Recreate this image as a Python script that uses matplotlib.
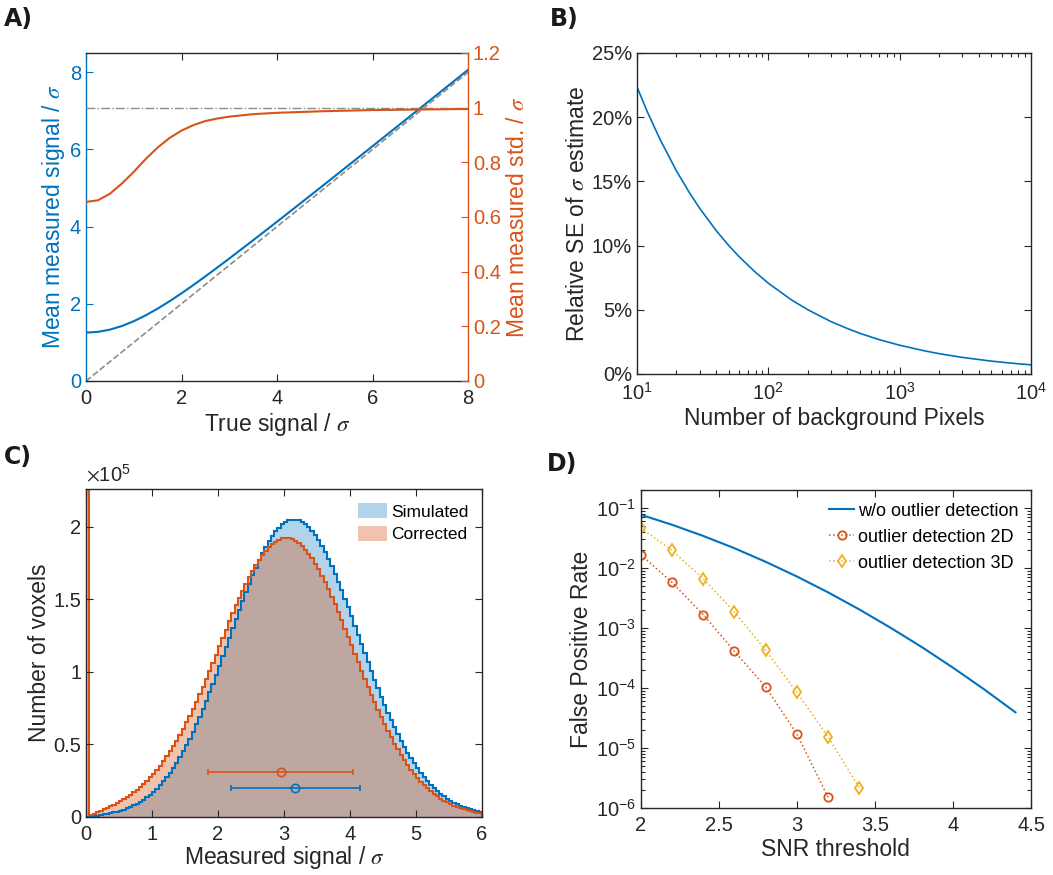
import numpy as np
import matplotlib.pyplot as plt
from matplotlib.patches import Patch
from matplotlib.ticker import FuncFormatter, LogLocator, NullFormatter

plt.rcParams['font.family'] = ['Liberation Sans', 'DejaVu Sans']
plt.rcParams['mathtext.fontset'] = 'stix'

blue = '#0072BD'
red = '#D95319'
yellow = '#EDB120'
dark = '#262626'

# --- A) mean / std of the measured signal vs true signal
true_signal = [0, 0.25, 0.5, 0.75, 1, 1.25, 1.5, 1.75, 2, 2.25, 2.5, 2.75,
               3, 3.5, 4, 4.5, 5, 5.5, 6, 6.5, 7, 7.5, 8]
mean_measured = [1.253, 1.273, 1.330, 1.424, 1.549, 1.701, 1.875, 2.067, 2.272,
                 2.488, 2.711, 2.940, 3.173, 3.647, 4.127, 4.613, 5.101, 5.592,
                 6.084, 6.577, 7.072, 7.567, 8.063]
std_measured = [0.655, 0.661, 0.685, 0.722, 0.765, 0.812, 0.854, 0.889, 0.916,
                0.936, 0.951, 0.960, 0.967, 0.976, 0.981, 0.984, 0.987, 0.989,
                0.991, 0.992, 0.993, 0.994, 0.995]
identity_line = [0, 8]

# --- B) relative SE of sigma estimate
n_pixels = [10, 12, 15, 20, 25, 30, 40, 50, 60, 80, 100, 150, 200, 300, 400,
            500, 700, 1000, 1500, 2000, 3000, 5000, 7000, 10000]
rel_se = [22.36, 20.41, 18.26, 15.81, 14.14, 12.91, 11.18, 10.00, 9.13, 7.91,
          7.07, 5.77, 5.00, 4.08, 3.54, 3.16, 2.67, 2.24, 1.83, 1.58, 1.29,
          1.00, 0.85, 0.71]

# --- C) histograms (counts in units of 1e5, bins of 0 .. 6)
simulated = [
    0.0014, 0.0042, 0.0071, 0.0102, 0.0136, 0.0173, 0.0214, 0.0261, 0.0313, 0.0371,
    0.0438, 0.0513, 0.0596, 0.0690, 0.0796, 0.0915, 0.1048, 0.1197, 0.1361, 0.1543,
    0.1743, 0.1962, 0.2202, 0.2463, 0.2746, 0.3052, 0.3382, 0.3735, 0.4113, 0.4516,
    0.4944, 0.5396, 0.5872, 0.6372, 0.6894, 0.7438, 0.8002, 0.8585, 0.9184, 0.9797,
    1.0422, 1.1057, 1.1697, 1.2342, 1.2986, 1.3626, 1.4259, 1.4880, 1.5488, 1.6077,
    1.6643, 1.7183, 1.7693, 1.8170, 1.8610, 1.9011, 1.9368, 1.9680, 1.9944, 2.0159,
    2.0322, 2.0433, 2.0490, 2.0495, 2.0446, 2.0342, 2.0188, 1.9982, 1.9727, 1.9425,
    1.9076, 1.8687, 1.8257, 1.7791, 1.7294, 1.6766, 1.6212, 1.5637, 1.5042, 1.4433,
    1.3813, 1.3187, 1.2555, 1.1924, 1.1295, 1.0672, 1.0057, 0.9454, 0.8865, 0.8290,
    0.7733, 0.7196, 0.6678, 0.6182, 0.5708, 0.5257, 0.4829, 0.4424, 0.4044, 0.3686,
    0.3351, 0.3040, 0.2750, 0.2482, 0.2233, 0.2005, 0.1795, 0.1604, 0.1429, 0.1270,
    0.1126, 0.0996, 0.0878, 0.0772, 0.0678, 0.0593, 0.0518, 0.0451, 0.0392, 0.0339]
corrected = [
    2.2600, 0.0137, 0.0229, 0.0324, 0.0422, 0.0522, 0.0624, 0.0733, 0.0849, 0.0973,
    0.1102, 0.1236, 0.1381, 0.1539, 0.1709, 0.1889, 0.2077, 0.2280, 0.2501, 0.2741,
    0.2995, 0.3257, 0.3540, 0.3846, 0.4176, 0.4521, 0.4875, 0.5254, 0.5657, 0.6086,
    0.6531, 0.6980, 0.7453, 0.7947, 0.8465, 0.8988, 0.9513, 1.0055, 1.0612, 1.1183,
    1.1759, 1.2325, 1.2896, 1.3469, 1.4043, 1.4585, 1.5092, 1.5584, 1.6060, 1.6516,
    1.6941, 1.7338, 1.7706, 1.8042, 1.8345, 1.8602, 1.8810, 1.8979, 1.9105, 1.9189,
    1.9219, 1.9194, 1.9124, 1.9011, 1.8854, 1.8654, 1.8414, 1.8131, 1.7813, 1.7456,
    1.7060, 1.6628, 1.6168, 1.5680, 1.5172, 1.4644, 1.4101, 1.3544, 1.2979, 1.2405,
    1.1822, 1.1241, 1.0663, 1.0090, 0.9524, 0.8967, 0.8422, 0.7891, 0.7375, 0.6876,
    0.6391, 0.5928, 0.5484, 0.5061, 0.4659, 0.4278, 0.3919, 0.3581, 0.3264, 0.2967,
    0.2691, 0.2434, 0.2197, 0.1978, 0.1775, 0.1591, 0.1421, 0.1267, 0.1126, 0.0999,
    0.0883, 0.0779, 0.0685, 0.0602, 0.0527, 0.0460, 0.0401, 0.0349, 0.0302, 0.0261]
hist_range = [0, 6]
err_mean = [3.17, 2.95]        # simulated, corrected
err_std = [0.975, 1.10]
err_height = [0.20, 0.31]

# --- D) false positive rate
snr_line = [2.0, 2.2, 2.4, 2.6, 2.8, 3.0, 3.2, 3.4, 3.6, 3.8, 4.0, 4.2, 4.4]
fpr_line = [0.0774, 0.0527, 0.0343, 0.0214, 0.0127, 0.00723, 0.00393, 0.00204,
            0.00101, 4.81e-4, 2.18e-4, 9.46e-5, 3.93e-5]
snr_2d = [2.0, 2.2, 2.4, 2.6, 2.8, 3.0, 3.2]
fpr_2d = [0.0167, 0.00577, 0.00167, 4.09e-4, 1.04e-4, 1.71e-5, 1.51e-6]
snr_3d = [2.0, 2.2, 2.4, 2.6, 2.8, 3.0, 3.2, 3.4]
fpr_3d = [0.0464, 0.0197, 0.00664, 0.00185, 4.25e-4, 8.48e-5, 1.53e-5, 2.16e-6]

fig = plt.figure(figsize=(10.53, 8.75), dpi=100)

tick_fs = 14.5
lab_fs = 16.5
tick_kw = dict(direction='in', labelsize=tick_fs, colors=dark, length=5, width=0.8)
gfmt = FuncFormatter(lambda v, p: '%g' % v)


def style(ax):
    for s in ax.spines.values():
        s.set_color(dark)
        s.set_linewidth(1.0)
    ax.tick_params(which='both', top=True, right=True, **tick_kw)
    ax.tick_params(which='minor', length=3)
    ax.tick_params(axis='x', which='major', pad=6)


# A
axA = fig.add_axes([0.0817, 0.5646, 0.3628, 0.3749])
axA2 = axA.twinx()
axA.plot(identity_line, identity_line, '--', color='#8c8c8c', lw=1.2)
axA.plot(true_signal, mean_measured, color=blue, lw=1.5)
axA2.axhline(1, color='#8c8c8c', ls='-.', lw=1.0)
axA2.plot(true_signal, std_measured, color=red, lw=1.5)
axA.set_xlim(0, 8)
axA.set_ylim(0, 8.5)
axA2.set_ylim(0, 1.2)
axA.set_xticks([0, 2, 4, 6, 8])
axA.set_yticks([0, 2, 4, 6, 8])
axA2.set_yticks(np.arange(0, 1.21, 0.2))
axA2.yaxis.set_major_formatter(gfmt)
for s in axA.spines.values():
    s.set_color(dark)
    s.set_linewidth(1.0)
axA.spines['left'].set_color(blue)
axA.spines['right'].set_visible(False)
axA2.spines['left'].set_visible(False)
axA2.spines['top'].set_visible(False)
axA2.spines['bottom'].set_visible(False)
axA2.spines['right'].set_color(red)
axA2.spines['right'].set_linewidth(1.0)
axA.tick_params(axis='x', top=True, pad=6, **tick_kw)
axA.tick_params(axis='y', right=False, direction='in', labelsize=tick_fs,
                colors=blue, length=5, width=0.8)
axA2.tick_params(axis='y', direction='in', labelsize=tick_fs, colors=red,
                 length=5, width=0.8)
axA.set_xlabel(r'True signal / $\sigma$', fontsize=lab_fs, color=dark, labelpad=2)
axA.set_ylabel(r'Mean measured signal / $\sigma$', fontsize=lab_fs, color=blue,
               labelpad=2)
axA2.set_ylabel(r'Mean measured std. / $\sigma$', fontsize=lab_fs, color=red,
                labelpad=4)

# B
axB = fig.add_axes([0.6049, 0.5726, 0.3742, 0.3669])
axB.plot(n_pixels, rel_se, color=blue, lw=1.2)
axB.set_xscale('log')
axB.set_xlim(10, 1e4)
axB.set_ylim(0, 25)
axB.set_yticks([0, 5, 10, 15, 20, 25])
axB.yaxis.set_major_formatter(FuncFormatter(lambda v, p: '%d%%' % v))
axB.xaxis.set_minor_locator(LogLocator(base=10, subs=np.arange(2, 10)))
axB.xaxis.set_minor_formatter(NullFormatter())
style(axB)
axB.set_xlabel('Number of background Pixels', fontsize=lab_fs, color=dark,
               labelpad=2)
axB.set_ylabel(r'Relative SE of $\sigma$ estimate', fontsize=lab_fs, color=dark,
               labelpad=2)

# C
axC = fig.add_axes([0.0817, 0.0663, 0.3761, 0.3749])
edges = np.linspace(hist_range[0], hist_range[1], len(simulated) + 1)
axC.stairs(simulated, edges, fill=True, color=blue, alpha=0.3, lw=0)
axC.stairs(corrected, edges, fill=True, color=red, alpha=0.35, lw=0)
axC.stairs(simulated, edges, color=blue, lw=1.5)
axC.stairs(corrected, edges, color=red, lw=1.5)
for m, s, h, c in zip(err_mean, err_std, err_height, [blue, red]):
    axC.errorbar(m, h, xerr=s, fmt='o', color=c, mfc='none', ms=6, lw=1.2,
                 capsize=2, capthick=1.0, mew=1.2)
axC.set_xlim(hist_range)
axC.set_ylim(0, max(corrected))
axC.set_yticks([0, 0.5, 1, 1.5, 2])
axC.yaxis.set_major_formatter(gfmt)
style(axC)
axC.text(0.0, 1.01, r'$\times\mathdefault{10^{5}}$', transform=axC.transAxes,
         fontsize=tick_fs, color=dark, va='bottom', ha='left')
axC.set_xlabel(r'Measured signal / $\sigma$', fontsize=lab_fs, color=dark,
               labelpad=0)
axC.set_ylabel('Number of voxels', fontsize=lab_fs, color=dark, labelpad=2)
axC.legend(handles=[Patch(facecolor=blue, alpha=0.3, label='Simulated'),
                    Patch(facecolor=red, alpha=0.35, label='Corrected')],
           loc='upper right', frameon=False, fontsize=12.5, handlelength=1.7,
           handleheight=1.0, handletextpad=0.2, borderaxespad=0.4,
           labelspacing=0.35)

# D
axD = fig.add_axes([0.6085, 0.0766, 0.3707, 0.3634])
axD.plot(snr_line, fpr_line, color=blue, lw=1.5,
         label='w/o outlier detection')
axD.plot(snr_2d, fpr_2d, ':', color=red, marker='o', mfc='none', ms=6,
         mew=1.3, lw=1.1, label='outlier detection 2D')
axD.plot(snr_3d, fpr_3d, ':', color=yellow, marker='d', mfc='none', ms=6,
         mew=1.3, lw=1.1, label='outlier detection 3D')
axD.set_yscale('log')
axD.set_xlim(2, 4.5)
axD.set_ylim(1e-6, 0.2)
axD.set_xticks([2, 2.5, 3, 3.5, 4, 4.5])
axD.xaxis.set_major_formatter(gfmt)
axD.yaxis.set_major_locator(LogLocator(base=10, numticks=10))
axD.yaxis.set_minor_locator(LogLocator(base=10, subs=np.arange(2, 10), numticks=20))
axD.yaxis.set_minor_formatter(NullFormatter())
style(axD)
axD.set_xlabel('SNR threshold', fontsize=lab_fs, color=dark, labelpad=2)
axD.set_ylabel('False Positive Rate', fontsize=lab_fs, color=dark, labelpad=2)
axD.legend(loc='upper right', frameon=False, fontsize=13, handlelength=1.4,
           handletextpad=0.2, borderaxespad=0.3, labelspacing=0.5)

# panel letters
for x, y, t in [(0.004, 0.992, 'A)'), (0.522, 0.992, 'B)'),
                (0.004, 0.491, 'C)'), (0.519, 0.484, 'D)')]:
    fig.text(x, y, t, fontsize=17, fontweight='bold', family='DejaVu Sans',
             va='top', ha='left', color='#1a1a1a')

fig.savefig('out.png', dpi=100)
